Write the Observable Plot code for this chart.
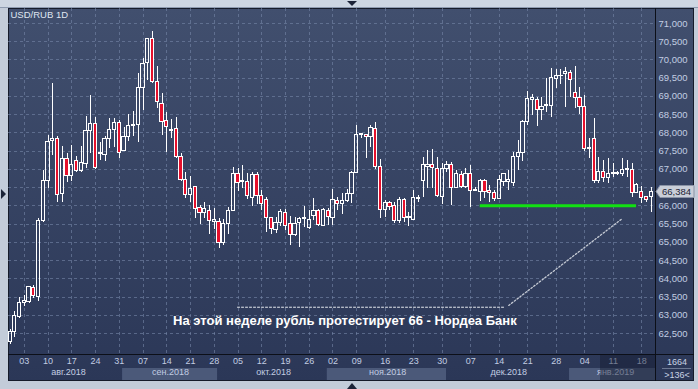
<!DOCTYPE html>
<html><head><meta charset="utf-8">
<script src="https://cdn.jsdelivr.net/npm/d3@7"></script>
<script src="https://cdn.jsdelivr.net/npm/@observablehq/plot@0.6"></script>
<style>
html,body{margin:0;padding:0;background:#c3ccd9;}
#chart{position:relative;width:698px;height:389px;overflow:hidden;}
</style></head><body><div id="chart"></div>
<script>
// ---- data ----
const title = "USD/RUB 1D";
const openV  = [62.28,62.55,62.95,63.34,63.36,63.75,63.50,65.58,66.67,67.78,67.84,66.33,67.29,66.83,67.24,66.95,67.15,68.06,68.25,67.43,67.40,67.82,68.09,68.27,67.50,67.90,68.19,68.22,69.24,69.92,70.58,69.39,68.80,68.34,68.05,68.11,67.35,66.70,66.30,66.53,65.94,65.81,65.86,65.57,65.57,64.98,65.51,65.87,66.88,66.65,66.65,66.22,66.85,66.27,66.16,65.67,65.34,65.52,65.80,65.51,65.21,65.52,65.64,65.40,65.72,65.85,65.46,65.87,65.67,66.13,66.06,66.12,66.33,66.90,67.94,67.95,67.88,68.11,67.06,65.89,66.07,65.99,65.58,66.16,65.67,65.62,66.19,66.69,67.06,67.11,67.01,66.24,67.02,67.12,66.50,66.85,66.51,66.88,66.42,66.38,66.67,66.40,66.36,66.19,66.65,66.65,66.62,67.35,67.45,68.30,68.91,68.91,68.62,68.75,68.75,69.48,69.55,69.62,69.65,69.10,68.96,68.72,67.56,67.84,66.68,66.94,66.77,66.86,66.88,66.86,66.98,66.99,66.36,66.39,66.24,66.24];
const highV  = [62.60,63.09,63.50,63.55,63.79,63.82,65.64,66.96,67.93,69.35,67.90,67.63,67.44,67.65,67.35,67.63,68.45,69.03,68.42,67.75,67.90,68.39,68.39,68.34,68.16,68.50,68.59,69.62,70.03,70.60,70.78,69.82,69.07,68.55,68.37,68.42,67.43,66.92,66.81,66.53,66.01,66.10,66.01,65.93,65.64,65.62,65.96,67.04,67.02,67.11,66.90,66.92,66.92,66.42,66.22,65.69,65.67,65.91,65.91,65.71,65.69,65.69,65.98,65.87,66.19,65.89,65.94,65.94,66.44,66.22,66.35,66.46,66.94,68.20,67.97,67.95,68.20,68.29,67.26,66.15,66.13,66.10,66.24,66.19,65.83,66.42,66.28,67.33,67.52,67.54,67.33,67.15,67.22,67.20,66.97,66.94,67.02,67.11,66.49,66.72,66.72,66.56,66.42,66.83,66.88,66.97,67.45,67.79,68.34,69.14,69.04,68.98,68.98,69.48,69.76,69.74,69.74,69.80,69.71,69.82,69.25,69.03,67.86,68.39,67.33,67.24,67.31,67.15,66.94,67.29,67.24,67.15,66.60,66.54,66.24,66.51];
const lowV   = [62.20,62.40,62.90,63.25,63.31,63.45,63.38,65.53,66.48,67.38,66.10,66.08,66.65,66.67,66.92,66.92,67.02,67.43,66.99,67.24,67.22,67.58,67.61,67.31,67.49,67.77,67.90,67.75,68.61,69.44,69.35,68.66,67.93,67.45,67.86,67.31,66.67,66.19,66.10,65.66,65.49,65.64,65.21,65.35,64.84,64.91,65.21,65.84,66.39,66.47,66.17,65.99,66.03,65.87,65.28,65.21,65.25,65.44,65.32,64.91,65.16,64.87,65.41,65.34,65.60,65.43,65.43,65.46,65.46,65.87,65.75,66.10,66.07,66.88,67.86,67.29,67.59,67.01,65.64,65.69,65.87,65.51,65.51,65.55,65.42,65.60,66.10,66.22,66.47,66.47,66.22,66.05,66.92,66.01,66.47,66.47,66.47,65.96,66.38,66.13,66.19,66.10,66.13,66.17,66.54,66.42,66.54,66.97,67.22,68.20,68.48,68.18,68.34,68.57,68.43,69.23,69.32,68.71,68.98,68.68,68.50,67.49,67.31,66.60,66.60,66.65,66.60,66.79,66.83,66.81,66.79,66.24,66.33,66.06,66.10,65.83];
const closeV = [62.55,62.97,63.34,63.40,63.77,63.52,65.58,66.67,67.75,67.82,66.30,67.29,66.83,67.12,66.95,67.17,68.06,68.25,67.03,67.45,67.84,68.08,68.28,67.45,67.90,68.20,68.23,69.24,69.89,70.58,69.39,68.86,68.30,68.17,68.09,67.33,66.70,66.30,66.45,65.92,65.81,65.90,65.58,65.62,64.98,65.51,65.87,66.88,66.62,66.66,66.26,66.85,66.28,66.06,65.67,65.37,65.52,65.82,65.44,65.21,65.51,65.64,65.66,65.60,65.85,65.48,65.89,65.69,66.16,66.06,66.13,66.33,66.90,67.95,67.95,67.90,68.14,67.06,65.89,66.07,65.96,65.58,66.16,65.67,65.70,66.22,66.21,67.11,67.11,67.04,66.26,67.02,67.11,66.50,66.88,66.51,66.88,66.42,66.44,66.67,66.38,66.36,66.19,66.71,66.86,66.70,67.35,67.45,68.30,68.93,68.96,68.63,68.70,68.77,69.50,69.57,69.56,69.68,69.46,68.95,68.71,67.56,67.58,66.68,66.94,66.77,66.88,66.89,66.91,66.99,67.00,66.36,66.56,66.21,66.17,66.384];

const tickIdx    = [3,8,13,18,23,28,33,38,43,48,53,58,63,68,73,79,85,91,97,103,109,115,121,127,133];
const tickLabels = ["03","10","17","24","31","07","14","21","28","05","12","19","26","02","09","16","23","30","07","14","21","28","04","11","18"];
const monthLabels = ["авг.2018","сен.2018","окт.2018","ноя.2018","дек.2018","янв.2019"];
const monthCenter = [12.3,33.8,55.5,79.5,105,127.5];
const monthBandFrom = [23.7,66.8,117.8];
const monthBandTo   = [43.7,91.9,136.5];
const yTicks = [62.5,63,63.5,64,64.5,65,65.5,66,66.5,67,67.5,68,68.5,69,69.5,70,70.5,71];

const supportLevel = [66];
const supportFrom = [99];
const supportTo = [131.9];
const noteLineI = [47.9,104.0];
const noteLineV = [63.22,63.22];
const noteDiagI = [105.0,128.7];
const noteDiagV = [63.27,65.63];
const noteText = ["На этой неделе рубль протестирует 66 - Нордеа Банк"];
const noteI = [70.5];
const noteV = [62.86];
const lastPrice = 66.384;
const barCounts = ["1664", ">136<"];

// ---- build ----
const candles = openV.map((o,i)=>({i, o, h:highV[i], l:lowV[i], c:closeV[i]}));
const red = "#e5102c";
const W = 698, H = 389;
const font = "'Liberation Sans', Arial, sans-serif";
const fmt = d => d.toFixed(3).replace(".", ",");

const plot = Plot.plot({
  width: W, height: H,
  marginLeft: 8, marginTop: 8, marginRight: 43, marginBottom: 35,
  style: {background: "transparent", fontFamily: font, fontSize: "9px", color: "#c2cde2", overflow: "visible"},
  x: {domain: [-0.32, 135.9], axis: null},
  y: {domain: [61.924, 71.411], axis: null},
  marks: [
    Plot.ruleY(yTicks, {stroke: "#7687a8", strokeOpacity: 0.6, strokeDasharray: "3,3", shapeRendering: "crispEdges"}),
    Plot.ruleX(tickIdx, {stroke: "#7687a8", strokeOpacity: 0.6, strokeDasharray: "3,3", shapeRendering: "crispEdges"}),
    Plot.ruleX(candles, {x: "i", y1: d => Math.max(d.o, d.c), y2: "h", stroke: "#ffffff", shapeRendering: "crispEdges"}),
    Plot.ruleX(candles, {x: "i", y1: "l", y2: d => Math.min(d.o, d.c), stroke: "#ffffff", shapeRendering: "crispEdges"}),
    Plot.rect(candles, {x1: d => d.i - 0.32, x2: d => d.i + 0.32, y1: "o", y2: d => Math.abs(d.c - d.o) < 0.02 ? d.o + 0.02 : d.c,
      fill: d => d.c < d.o ? red : "none", stroke: "#ffffff", strokeWidth: 1, shapeRendering: "crispEdges"}),
    Plot.ruleY(supportLevel, {x1: (d,i) => supportFrom[i], x2: (d,i) => supportTo[i], stroke: "#12e012", strokeWidth: 3}),
    Plot.line(noteLineI.map((x,k)=>({x, y: noteLineV[k]})), {x: "x", y: "y", stroke: "#e8ecf2", strokeWidth: 1, strokeDasharray: "2,2"}),
    Plot.line(noteDiagI.map((x,k)=>({x, y: noteDiagV[k]})), {x: "x", y: "y", stroke: "#c4c9d3", strokeWidth: 1.3, strokeDasharray: "1.5,2"}),
    Plot.text(noteText, {x: (d,i) => noteI[i], y: (d,i) => noteV[i], text: d => d, fill: "#ffffff", fontSize: 13, fontWeight: "bold", fontFamily: font}),
    Plot.axisY(yTicks, {anchor: "right", tickSize: 0, tickPadding: 3, tickFormat: fmt, fill: "#c2cde2", fontSize: 9.5}),
    Plot.axisX(tickIdx, {anchor: "bottom", tickSize: 0, tickPadding: 3, tickFormat: d => tickLabels[tickIdx.indexOf(d)], fill: "#c2cde2", fontSize: 9}),
    Plot.text(monthLabels, {x: (d,i) => monthCenter[i], frameAnchor: "bottom", dy: 20, text: d => d, fill: "#c2cde2", fontSize: 9}),
    Plot.text([title], {frameAnchor: "top-left", dx: 2, dy: 3, text: d => d, fill: "#dfe5f0", fontSize: 9.5})
  ]
});

document.getElementById("chart").appendChild(plot);
const svg = d3.select(plot);
const xs = plot.scale("x"), ys = plot.scale("y");

// background layer (inserted before marks)
const defs = svg.insert("defs", ":first-child");
const g1 = defs.append("linearGradient").attr("id", "bg").attr("x1", 0).attr("y1", 0).attr("x2", 0).attr("y2", 1);
g1.append("stop").attr("offset", "0%").attr("stop-color", "#414f6e");
g1.append("stop").attr("offset", "100%").attr("stop-color", "#2b3757");
const bgLayer = svg.insert("g", "defs + *");
bgLayer.append("rect").attr("x", 0).attr("y", 0).attr("width", W).attr("height", H).attr("fill", "#c3ccd9");
bgLayer.append("rect").attr("x", 0).attr("y", 0).attr("width", W).attr("height", 7).attr("fill", "#cdd6e2");
bgLayer.append("line").attr("x1", 0).attr("x2", W).attr("y1", 7.5).attr("y2", 7.5).attr("stroke", "#8e9bb0");
bgLayer.append("rect").attr("x", 8).attr("y", 8).attr("width", 686).attr("height", 373).attr("fill", "url(#bg)");
monthBandFrom.forEach((f, k) => {
  const x1 = xs.apply(f), x2 = Math.min(xs.apply(monthBandTo[k]), 655);
  bgLayer.append("rect").attr("x", x1).attr("y", 368).attr("width", x2 - x1).attr("height", 13).attr("fill", "#4b5979");
});
bgLayer.append("rect").attr("x", 8.5).attr("y", 8.5).attr("width", 685).attr("height", 372).attr("fill", "none").attr("stroke", "#151b2a");
bgLayer.append("line").attr("x1", 655.5).attr("x2", 655.5).attr("y1", 8).attr("y2", 381).attr("stroke", "#0c0f18");
bgLayer.append("line").attr("x1", 8).attr("x2", 694).attr("y1", 354.5).attr("y2", 354.5).attr("stroke", "#0c0f18");
bgLayer.append("line").attr("x1", 662).attr("x2", 691).attr("y1", 368.5).attr("y2", 368.5).attr("stroke", "#6c7892");

// overlay on the right part of the time axis
svg.append("rect").attr("x", 600).attr("y", 355).attr("width", 55).attr("height", 26).attr("fill", "#141b2e").attr("opacity", 0.45);

// bar counters
svg.append("text").attr("x", 677).attr("y", 362).attr("text-anchor", "middle").attr("dy", "0.35em")
  .attr("font-family", font).attr("font-size", 9).attr("fill", "#c8d2e4").text(barCounts[0]);
svg.append("text").attr("x", 677).attr("y", 375).attr("text-anchor", "middle").attr("dy", "0.35em")
  .attr("font-family", font).attr("font-size", 9).attr("fill", "#c8d2e4").text(barCounts[1]);

// last price tag (drawn over the 66,500 label, as in the reference)
const py = Math.round(ys.apply(lastPrice)) + 0.5;
const tag = svg.append("g");
tag.append("path").attr("d", `M656,${py} L660,${py-6} L694,${py-6} L694,${py+6} L660,${py+6} Z`)
  .attr("fill", "#c9ced8").attr("stroke", "#8a93a5");
tag.append("text").attr("x", 691).attr("y", py).attr("dy", "0.35em").attr("text-anchor", "end")
  .style("font-family", font).style("font-size", "9.5px").style("fill", "#1d2436").text(fmt(lastPrice));

// scroll triangles
svg.append("path").attr("d", "M347,1 L357,1 L352,6 Z").attr("fill", "#1c2438");
svg.append("path").attr("d", "M347,389 L357,389 L352,383 Z").attr("fill", "#1c2438");
svg.append("path").attr("d", "M1,189 L6,194 L1,199 Z").attr("fill", "#1c2438");
</script>
</body></html>
